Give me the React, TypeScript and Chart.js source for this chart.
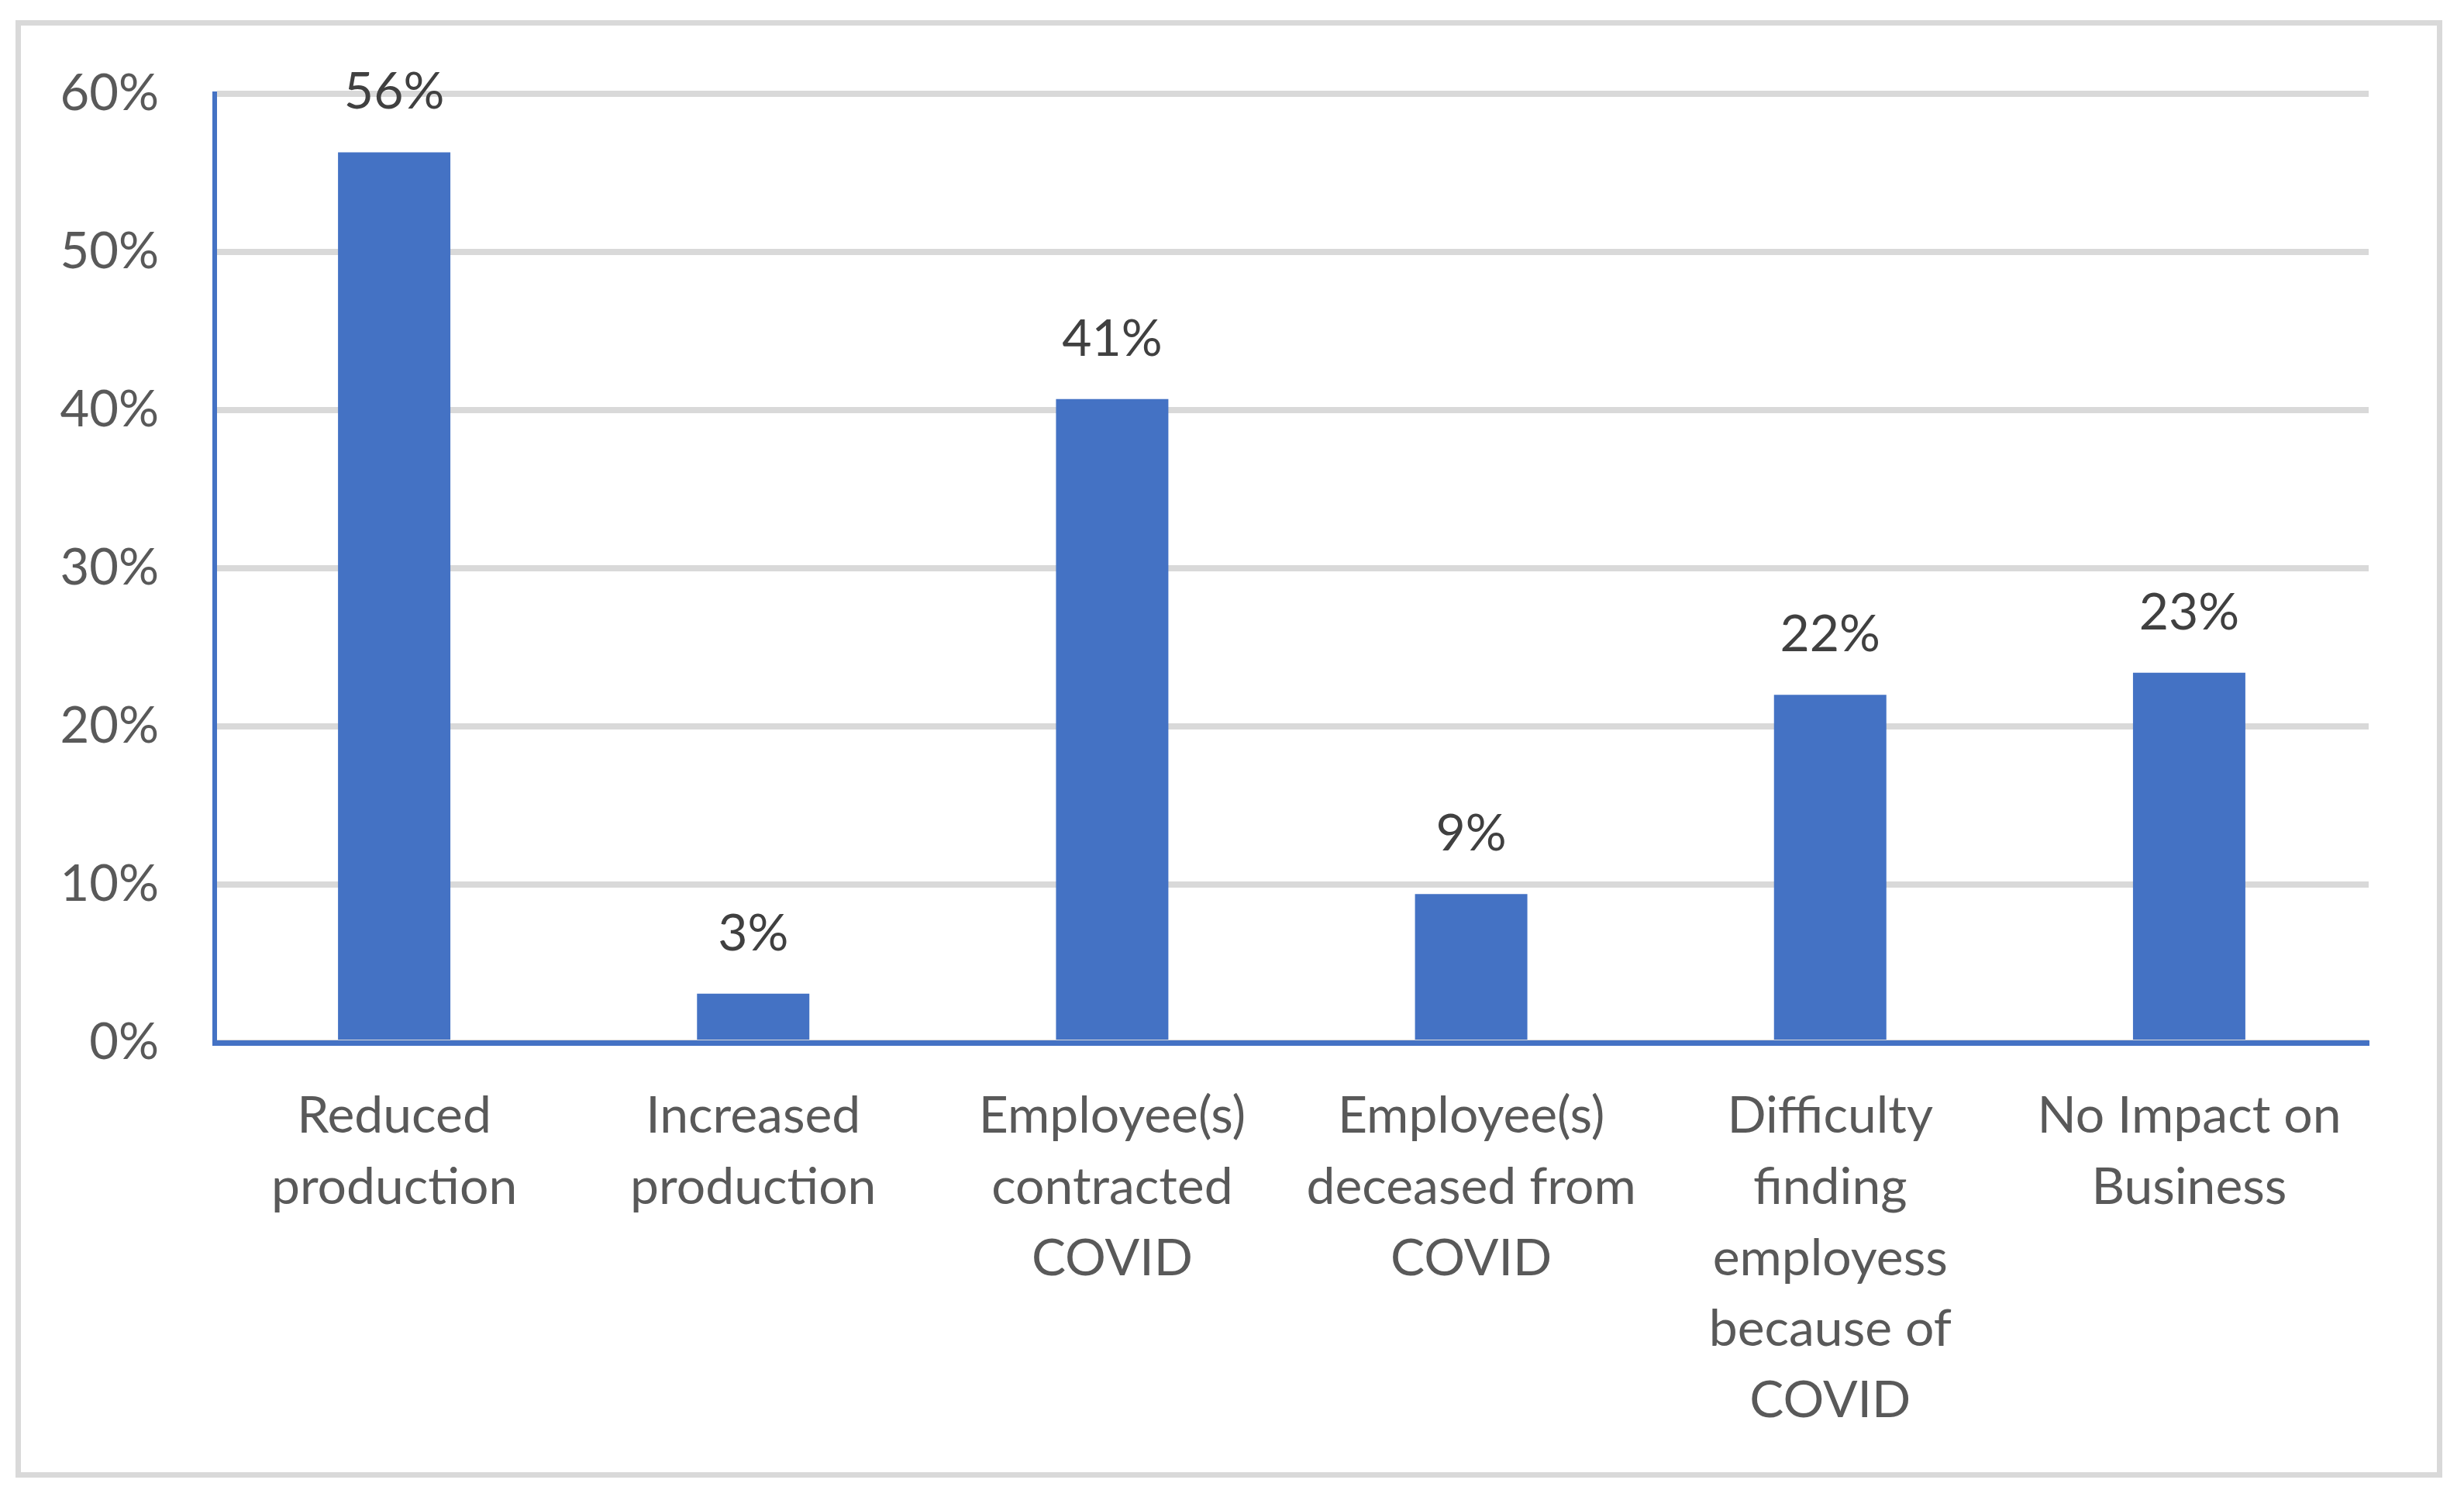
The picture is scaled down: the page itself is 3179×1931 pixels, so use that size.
import React, { useEffect, useRef } from "react";
import { Chart, registerables } from "chart.js";

Chart.register(...registerables);

const categories: string[][] = [
  ["Reduced", "production"],
  ["Increased", "production"],
  ["Employee(s)", "contracted", "COVID"],
  ["Employee(s)", "deceased from", "COVID"],
  ["Difficulty", "finding", "employess", "because of", "COVID"],
  ["No Impact on", "Business"],
];
const values: number[] = [56.3, 3.1, 40.7, 9.4, 22.0, 23.4];
const dataLabels: string[] = ["56%", "3%", "41%", "9%", "22%", "23%"];
const yTicks: number[] = [0, 10, 20, 30, 40, 50, 60];

const FONT = "Lato, 'Open Sans', 'Noto Sans', sans-serif";
const BLUE = "#4472c4";

const dataLabelPlugin = {
  id: "dataLabelPlugin",
  afterDatasetsDraw(chart: any) {
    const ctx = chart.ctx;
    const meta = chart.getDatasetMeta(0);
    ctx.save();
    ctx.font = `66px ${FONT}`;
    ctx.fillStyle = "#404040";
    ctx.textAlign = "center";
    ctx.textBaseline = "alphabetic";
    meta.data.forEach((bar: any, i: number) => {
      ctx.fillText(dataLabels[i], bar.x, bar.y - 56);
    });
    ctx.restore();
  },
};

export default function App() {
  const canvasRef = useRef<HTMLCanvasElement | null>(null);

  useEffect(() => {
    if (!canvasRef.current) return;
    const chart = new Chart(canvasRef.current, {
      type: "bar",
      data: {
        labels: categories,
        datasets: [
          {
            data: values,
            backgroundColor: BLUE,
            borderWidth: 0,
            categoryPercentage: 1,
            barPercentage: 0.313,
          },
        ],
      },
      options: {
        animation: false,
        responsive: true,
        maintainAspectRatio: false,
        devicePixelRatio: 1,
        layout: { padding: { left: 0, top: 121, right: 123, bottom: 0 } },
        plugins: {
          legend: { display: false },
          tooltip: { enabled: false },
          title: { display: false },
        },
        scales: {
          x: {
            grid: { display: true, drawOnChartArea: false, drawTicks: false, color: "rgba(0,0,0,0)" },
            border: { display: true, color: BLUE, width: 7 },
            ticks: {
              color: "#595959",
              font: { family: FONT, size: 66, lineHeight: 1.39 },
              padding: 49,
              maxRotation: 0,
              autoSkip: false,
            },
            afterFit: (s: any) => {
              s.height = 586;
            },
          },
          y: {
            min: 0,
            max: 60,
            afterBuildTicks: (s: any) => {
              s.ticks = yTicks.map((v) => ({ value: v }));
            },
            grid: { color: "#d9d9d9", lineWidth: 8, drawTicks: false },
            border: { display: true, color: BLUE, width: 6 },
            ticks: {
              color: "#595959",
              font: { family: FONT, size: 65 },
              padding: 72,
              callback: (v: any) => `${v}%`,
            },
            afterFit: (s: any) => {
              s.width = 277;
            },
          },
        },
      },
      plugins: [dataLabelPlugin],
    });
    return () => chart.destroy();
  }, []);

  return (
    <div
      style={{
        position: "absolute",
        left: 0,
        top: 0,
        width: 3179,
        height: 1931,
        background: "#ffffff",
        overflow: "hidden",
      }}
    >
      <div
        style={{
          position: "absolute",
          left: 20,
          top: 26,
          width: 3131,
          height: 1880,
          boxSizing: "border-box",
          border: "7px solid #d9d9d9",
        }}
      />
      <div style={{ position: "absolute", left: 0, top: 0, width: 3179, height: 1931 }}>
        <canvas ref={canvasRef} />
      </div>
    </div>
  );
}
